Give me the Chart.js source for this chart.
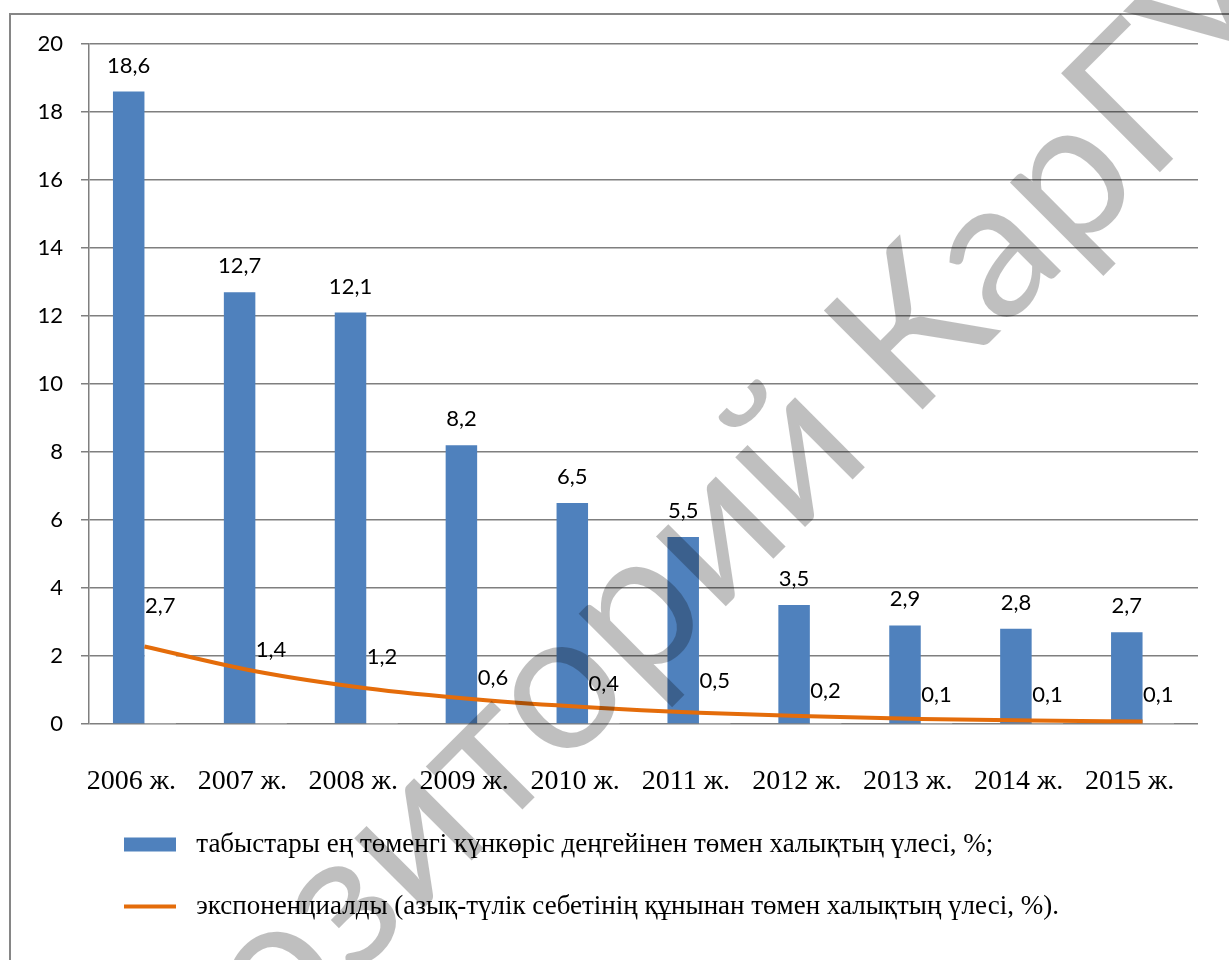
<!DOCTYPE html>
<html>
<head>
<meta charset="utf-8">
<title>Chart</title>
<script src="https://cdn.jsdelivr.net/npm/chart.js@4.4.1/dist/chart.umd.min.js"></script>
<style>
  html, body { margin: 0; padding: 0; background: #fff; overflow: hidden; }
</style>
</head>
<body>
<canvas id="myChart" width="1229" height="960"></canvas>
<script>
const years = ['2006 ж.', '2007 ж.', '2008 ж.', '2009 ж.', '2010 ж.', '2011 ж.', '2012 ж.', '2013 ж.', '2014 ж.', '2015 ж.'];
const belowMinimum = [18.6, 12.7, 12.1, 8.2, 6.5, 5.5, 3.5, 2.9, 2.8, 2.7];
const belowFoodBasket = [2.7, 1.4, 1.2, 0.6, 0.4, 0.5, 0.2, 0.1, 0.1, 0.1];
// trend curve at each year
const foodTrend = [2.28, 1.55, 1.05, 0.72, 0.49, 0.33, 0.23, 0.15, 0.10, 0.07];

const minimumName = 'табыстары ең төменгі күнкөріс деңгейінен төмен халықтың үлесі, %;';
const foodName = 'азық-түлік себетінің құнынан төмен халықтың үлесі, %';
const trendName = 'экспоненциалды (азық-түлік себетінің құнынан төмен халықтың үлесі, %).';

Chart.defaults.font.family = 'Lato';
Chart.defaults.color = '#000';

// grey frame round the whole chart
const frame = {
    id: 'frame',
    beforeDraw(chart) {
        const ctx = chart.ctx;
        ctx.save();
        ctx.strokeStyle = '#868686';
        ctx.lineWidth = 2;
        ctx.strokeRect(10, 14, 1300, 1000);
        ctx.restore();
    }
};

// value labels above both bar series
const valueLabels = {
    id: 'valueLabels',
    afterDatasetsDraw(chart) {
        const ctx = chart.ctx;
        ctx.save();
        ctx.font = '22px Lato';
        ctx.fillStyle = '#000';
        ctx.textAlign = 'center';
        ctx.textBaseline = 'middle';
        chart.data.datasets.forEach((ds, i) => {
            if (ds.type === 'line') return;
            const meta = chart.getDatasetMeta(i);
            meta.data.forEach((bar, j) => {
                const text = ds.data[j].toFixed(1).replace('.', ',');
                ctx.fillText(text, bar.x, bar.y - 26);
            });
        });
        ctx.restore();
    }
};

// watermark across the chart
const watermark = {
    id: 'watermark',
    afterDraw(chart) {
        const ctx = chart.ctx;
        ctx.save();
        ctx.font = '195px Lato';
        ctx.fillStyle = 'rgba(0, 0, 0, 0.25)';
        ctx.textBaseline = 'alphabetic';
        ctx.translate(910, 422);
        ctx.rotate(-Math.PI / 4);
        const lead = ctx.measureText('Репозиторий ').width;
        ctx.fillText('Репозиторий КарГУ', -lead, 0);
        ctx.restore();
    }
};

new Chart(document.getElementById('myChart'), {
    type: 'bar',
    data: {
        labels: years,
        datasets: [{
            label: minimumName,
            data: belowMinimum,
            backgroundColor: '#4f81bd',
            pointStyle: 'rect',
            order: 2,
        }, {
            label: foodName,
            data: belowFoodBasket,
            backgroundColor: '#ffffff',
            order: 3,
        }, {
            type: 'line',
            label: trendName,
            data: foodTrend,
            borderColor: '#e46c0a',
            borderWidth: 4,
            pointRadius: 0,
            pointStyle: 'line',
            pointBorderWidth: 4,
            pointBorderColor: '#e46c0a',
            tension: 0.4,
            cubicInterpolationMode: 'monotone',
            order: 1,
        }]
    },
    options: {
        responsive: false,
        animation: false,
        devicePixelRatio: 1,
        events: [],
        categoryPercentage: 0.568,
        barPercentage: 1,
        layout: {
            padding: { left: 0, top: 44, right: 31, bottom: 30 }
        },
        scales: {
            x: {
                grid: { display: false },
                border: { display: false },
                ticks: {
                    font: { family: 'Liberation Serif', size: 28 },
                    padding: 33,
                    labelOffset: -13,
                    maxRotation: 0,
                    autoSkip: false,
                },
                afterFit: (scale) => { scale.height = 72; }
            },
            y: {
                min: 0,
                max: 20,
                ticks: { stepSize: 2, font: { size: 22 }, padding: 18 },
                grid: { color: '#7f7f7f', lineWidth: 1.5, tickLength: 8 },
                border: { color: '#7f7f7f', width: 1.5 },
                afterFit: (scale) => { scale.width = 89; }
            }
        },
        plugins: {
            tooltip: { enabled: false },
            legend: {
                position: 'bottom',
                align: 'start',
                fullSize: false,
                labels: {
                    usePointStyle: true,
                    pointStyleWidth: 52,
                    boxHeight: 14,
                    padding: 35,
                    font: { family: 'Liberation Serif', size: 27 },
                    filter: (item) => item.datasetIndex !== 1,
                    sort: (a, b) => a.datasetIndex - b.datasetIndex,
                    generateLabels: (chart) => Chart.defaults.plugins.legend.labels.generateLabels(chart)
                        .map(item => Object.assign(item, { text: ' ' + item.text })),
                }
            }
        }
    },
    plugins: [frame, valueLabels, watermark]
});
</script>
</body>
</html>
